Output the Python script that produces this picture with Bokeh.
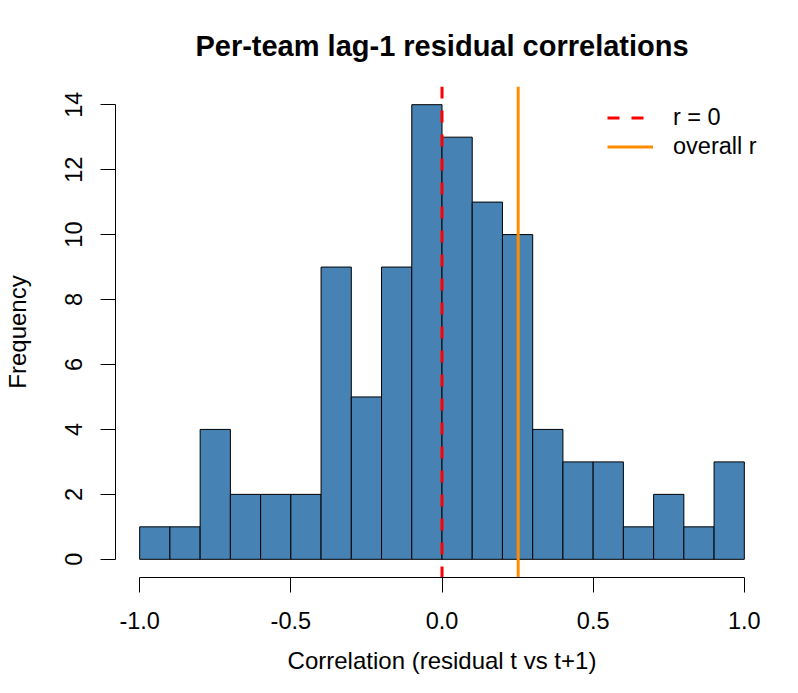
from bokeh.plotting import figure
from bokeh.models import FixedTicker, Range1d, Legend, LegendItem
from bokeh.embed import file_html
from bokeh.resources import INLINE

# ---- data ----
breaks = [-1.0, -0.9, -0.8, -0.7, -0.6, -0.5, -0.4, -0.3, -0.2, -0.1, 0.0,
          0.1, 0.2, 0.3, 0.4, 0.5, 0.6, 0.7, 0.8, 0.9, 1.0]
counts = [1, 1, 4, 2, 2, 2, 9, 5, 9, 14, 13, 11, 10, 4, 3, 3, 1, 2, 1, 3]
zero_r = 0.0
overall_r = 0.252
x_ticks = [-1.0, -0.5, 0.0, 0.5, 1.0]
x_tick_labels = ["-1.0", "-0.5", "0.0", "0.5", "1.0"]
y_ticks = [0, 2, 4, 6, 8, 10, 12, 14]

FONT = "Liberation Sans"

x_lo, x_hi = -1.08, 1.08
y_lo, y_hi = -0.56, 14.56

p = figure(width=782, height=677, output_backend="svg", toolbar_location=None,
           x_range=Range1d(x_lo, x_hi), y_range=Range1d(y_lo, y_hi),
           min_border_left=115, min_border_right=14, min_border_top=86,
           min_border_bottom=100, title="Per-team lag-1 residual correlations")
p.outline_line_color = None
p.xgrid.visible = False
p.ygrid.visible = False
p.background_fill_color = "white"
p.border_fill_color = "white"

p.title.align = "center"
p.title.text_font = FONT
p.title.text_font_size = "29px"
p.title.text_font_style = "bold"
p.title.text_color = "black"
p.title.standoff = 50

p.quad(left=breaks[:-1], right=breaks[1:], bottom=0, top=counts,
       fill_color="#4682B4", line_color="black", line_width=1)

r0 = p.line(x=[zero_r, zero_r], y=[y_hi, y_lo], line_color="#FF0000",
            line_width=3, line_dash="12 12")
r1 = p.line(x=[overall_r, overall_r], y=[y_hi, y_lo], line_color="#FF8C00",
            line_width=3)

xa = p.xaxis[0]
xa.ticker = FixedTicker(ticks=x_ticks, minor_ticks=[])
xa.major_label_overrides = {t: l for t, l in zip(x_ticks, x_tick_labels)}
xa.bounds = (x_ticks[0], x_ticks[-1])
xa.axis_label = "Correlation (residual t vs t+1)"

ya = p.yaxis[0]
ya.ticker = FixedTicker(ticks=y_ticks, minor_ticks=[])
ya.bounds = (y_ticks[0], y_ticks[-1])
ya.axis_label = "Frequency"
ya.major_label_orientation = "vertical"

for ax in (xa, ya):
    ax.axis_line_color = "black"
    ax.axis_line_width = 1
    ax.major_tick_line_color = "black"
    ax.major_tick_line_width = 1
    ax.major_tick_out = 15
    ax.major_tick_in = 0
    ax.minor_tick_line_color = None
    ax.major_label_text_font = FONT
    ax.major_label_text_font_size = "23.5px"
    ax.major_label_text_color = "black"
    ax.axis_label_text_font = FONT
    ax.axis_label_text_font_size = "24px"
    ax.axis_label_text_font_style = "normal"
    ax.axis_label_text_color = "black"

xa.major_label_standoff = 19
xa.axis_label_standoff = 15
ya.major_label_standoff = 18
ya.axis_label_standoff = 32

legend = Legend(items=[LegendItem(label="r = 0", renderers=[r0]),
                       LegendItem(label="overall r", renderers=[r1])],
                location=(492, 416), orientation="vertical")
legend.border_line_color = None
legend.background_fill_alpha = 0
legend.padding = 0
legend.margin = 0
legend.spacing = 0
legend.glyph_width = 46
legend.glyph_height = 29
legend.label_height = 29
legend.label_standoff = 20
legend.label_text_font = FONT
legend.label_text_font_size = "23.5px"
legend.label_text_color = "black"
p.add_layout(legend)

open("out.html", "w").write(file_html(p, INLINE))
